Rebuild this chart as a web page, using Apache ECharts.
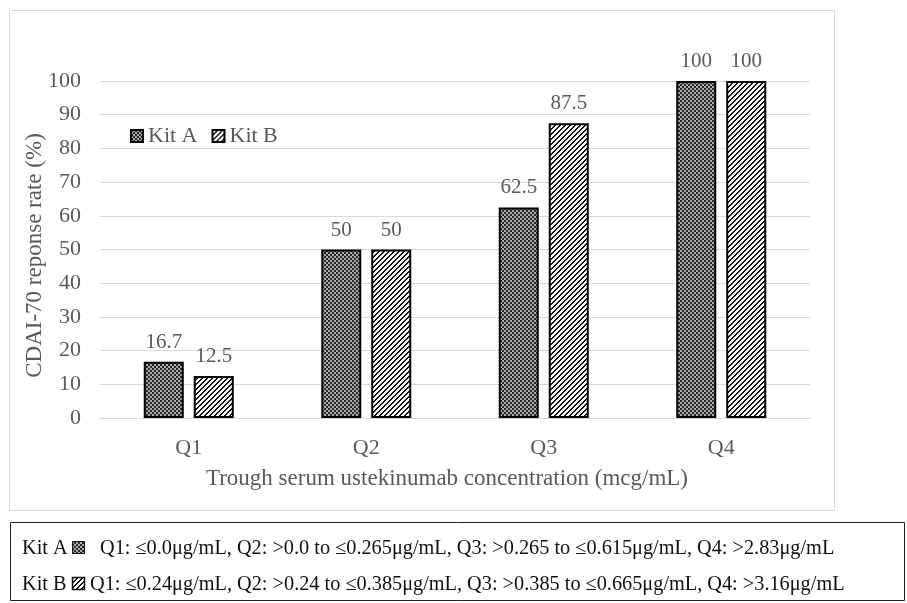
<!DOCTYPE html>
<html>
<head>
<meta charset="utf-8">
<script src="https://cdn.jsdelivr.net/npm/echarts@6/dist/echarts.min.js"></script>
<style>
html,body{margin:0;padding:0;background:#fff;}
#c{width:907px;height:603px;}
</style>
</head>
<body>
<div id="c"></div>
<script>
const categories = ['Q1', 'Q2', 'Q3', 'Q4'];
const kitA = [16.7, 50, 62.5, 100];
const kitB = [12.5, 50, 87.5, 100];
const seriesNames = ['Kit A', 'Kit B'];
const yTicks = { min: 0, max: 100, interval: 10 };
const noteA = 'Q1: \u22640.0\u03bcg/mL, Q2: >0.0 to \u22640.265\u03bcg/mL, Q3: >0.265 to \u22640.615\u03bcg/mL, Q4: >2.83\u03bcg/mL';
const noteB = 'Q1: \u22640.24\u03bcg/mL, Q2: >0.24 to \u22640.385\u03bcg/mL, Q3: >0.385 to \u22640.665\u03bcg/mL, Q4: >3.16\u03bcg/mL';

function checkPattern() {
  const c = document.createElement('canvas');
  c.width = 4; c.height = 4;
  const ctx = c.getContext('2d');
  ctx.fillStyle = '#a8a8a8';
  ctx.fillRect(0, 0, 4, 4);
  ctx.fillStyle = '#2a2a2a';
  ctx.fillRect(0, 0, 2, 2);
  ctx.fillRect(2, 2, 2, 2);
  return c;
}
function hatchPattern() {
  const s = 5;
  const c = document.createElement('canvas');
  c.width = s; c.height = s;
  const ctx = c.getContext('2d');
  ctx.fillStyle = '#ffffff';
  ctx.fillRect(0, 0, s, s);
  ctx.fillStyle = '#111111';
  for (let x = 0; x < s; x++) {
    const y = s - 1 - x;
    ctx.fillRect(x, y, 1, 1);
    ctx.fillRect(x, (y + 1) % s, 1, 1);
  }
  return c;
}
const patA = { image: checkPattern(), repeat: 'repeat' };
const patB = { image: hatchPattern(), repeat: 'repeat' };

const font = 'Liberation Serif';
const grey = '#595959';
const noteFont = '20.3px "Liberation Serif"';

const chart = echarts.init(document.getElementById('c'), null, { renderer: 'canvas' });
chart.setOption({
  animation: false,
  backgroundColor: '#ffffff',
  textStyle: { fontFamily: font },
  grid: { left: 100, right: 97, top: 81, bottom: 185 },
  legend: {
    left: 125, top: 120,
    itemWidth: 12, itemHeight: 12, itemGap: 14,
    icon: 'rect',
    textStyle: { fontFamily: font, fontSize: 22, color: grey },
    data: seriesNames
  },
  xAxis: {
    type: 'category',
    data: categories,
    name: 'Trough serum ustekinumab concentration (mcg/mL)',
    nameLocation: 'middle',
    nameGap: 49,
    nameTextStyle: { fontFamily: font, fontSize: 23, color: grey, padding: [0, 16, 0, 0] },
    axisLine: { show: true, lineStyle: { color: '#d9d9d9', width: 1 } },
    axisTick: { show: false },
    axisLabel: { fontFamily: font, fontSize: 22, color: grey, margin: 19 }
  },
  yAxis: {
    type: 'value',
    min: yTicks.min, max: yTicks.max, interval: yTicks.interval,
    name: 'CDAI-70 reponse rate (%)',
    nameLocation: 'middle',
    nameGap: 54,
    nameMoveOverlap: false,
    nameTextStyle: { fontFamily: font, fontSize: 23, color: grey, padding: [0, 12, 0, 0] },
    axisLine: { show: false },
    axisTick: { show: false },
    splitLine: { lineStyle: { color: '#d9d9d9', width: 1 } },
    axisLabel: { fontFamily: font, fontSize: 22, color: grey, margin: 19 }
  },
  series: [
    {
      name: seriesNames[0], type: 'bar', data: kitA,
      barWidth: 40, barGap: '25%',
      itemStyle: { color: patA, borderColor: '#000', borderWidth: 2 },
      label: { show: true, position: 'top', distance: 9, fontFamily: font, fontSize: 21, color: grey }
    },
    {
      name: seriesNames[1], type: 'bar', data: kitB,
      barWidth: 40,
      itemStyle: { color: patB, borderColor: '#000', borderWidth: 2 },
      label: { show: true, position: 'top', distance: 9, fontFamily: font, fontSize: 21, color: grey }
    }
  ],
  graphic: [
    { type: 'rect', shape: { x: 9.5, y: 10.5, width: 825, height: 500 }, style: { fill: 'none', stroke: '#d9d9d9', lineWidth: 1 }, silent: true },
    { type: 'rect', shape: { x: 10.5, y: 522.5, width: 894, height: 78 }, style: { fill: 'none', stroke: '#222', lineWidth: 1 }, silent: true },
    { type: 'text', left: 22, top: 539, style: { text: 'Kit A', font: noteFont, fill: '#111' } },
    { type: 'rect', shape: { x: 72.5, y: 541.5, width: 12, height: 12 }, style: { fill: patA, stroke: '#111', lineWidth: 1 } },
    { type: 'text', left: 100, top: 539, style: { text: noteA, font: noteFont, fill: '#111' } },
    { type: 'text', left: 22, top: 575, style: { text: 'Kit B', font: noteFont, fill: '#111' } },
    { type: 'rect', shape: { x: 72.5, y: 577.5, width: 12, height: 12 }, style: { fill: patB, stroke: '#111', lineWidth: 1.5 } },
    { type: 'text', left: 90, top: 575, style: { text: noteB, font: noteFont, fill: '#111' } }
  ]
});
</script>
</body>
</html>
